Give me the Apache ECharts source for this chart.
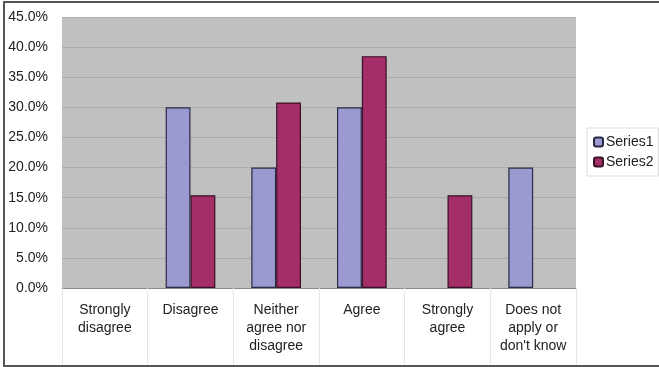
<!DOCTYPE html>
<html>
<head>
<meta charset="utf-8">
<script src="https://cdn.jsdelivr.net/npm/echarts@6/dist/echarts.min.js"></script>
<style>
  html, body { margin: 0; padding: 0; background: #fff; }
  #wrap { position: relative; width: 659px; height: 367px; }
  #chart { position: absolute; left: 0; top: 0; width: 659px; height: 367px; }
  #frame { position: absolute; left: 3px; top: 1px; width: 660px; height: 362px;
           border-left: 2px solid #555; border-top: 2px solid #555; border-bottom: 2px solid #555;
           pointer-events: none; }
</style>
</head>
<body>
<div id="wrap">
  <div id="chart"></div>
  <div id="frame"></div>
</div>
<script>
// Survey response categories
const categories = [
  'Strongly\ndisagree',
  'Disagree',
  'Neither\nagree nor\ndisagree',
  'Agree',
  'Strongly\nagree',
  'Does not\napply or\ndon\'t know'
];
// Share of responses, percent
const series1 = [0, 30.0, 20.0, 30.0, 0, 20.0];
const series2 = [0, 15.4, 30.8, 38.5, 15.4, 0];
const seriesNames = ['Series1', 'Series2'];

const font = 'Liberation Sans, Arial, sans-serif';

// Zero-height bars get no outline, so empty categories stay blank
const barData = arr => arr.map(v => v === 0 ? { value: v, itemStyle: { borderWidth: 0, opacity: 0 } } : v);

const chart = echarts.init(document.getElementById('chart'), null, { renderer: 'canvas' });

chart.setOption({
  animation: false,
  backgroundColor: '#ffffff',
  grid: { left: 62, right: 83, top: 17, bottom: 79, show: true, backgroundColor: '#c0c0c0', borderWidth: 0 },
  legend: {
    data: seriesNames,
    orient: 'vertical',
    left: 587,
    top: 128,
    padding: [7, 5, 7, 6],
    itemGap: 6,
    itemWidth: 9,
    itemHeight: 9,
    backgroundColor: '#ffffff',
    borderColor: '#dddddd',
    borderWidth: 1,
    textStyle: { fontFamily: font, fontSize: 14, color: '#222', padding: [0, 0, 0, -2] }
  },
  xAxis: {
    type: 'category',
    data: categories,
    axisLine: { show: true, lineStyle: { color: '#888', width: 1 } },
    axisTick: { show: true, alignWithLabel: false, length: 77, lineStyle: { color: '#e6e6e6', width: 1 } },
    axisLabel: {
      interval: 0,
      margin: 13,
      fontFamily: font,
      fontSize: 14,
      color: '#222',
      lineHeight: 18,
      verticalAlign: 'top'
    }
  },
  yAxis: {
    type: 'value',
    min: 0,
    max: 45,
    interval: 5,
    axisLine: { show: false },
    axisTick: { show: false },
    splitLine: { show: true, lineStyle: { color: '#aaaaaa', width: 1 } },
    axisLabel: {
      margin: 14,
      fontFamily: font,
      fontSize: 14,
      color: '#222',
      formatter: v => v.toFixed(1) + '%'
    }
  },
  series: [
    {
      name: seriesNames[0],
      type: 'bar',
      data: barData(series1),
      barGap: '0%',
      barCategoryGap: '42%',
      itemStyle: { color: '#9a99d0', borderColor: '#2a2a44', borderWidth: 1.2 }
    },
    {
      name: seriesNames[1],
      type: 'bar',
      data: barData(series2),
      itemStyle: { color: '#a32e68', borderColor: '#3a1026', borderWidth: 1.2 }
    }
  ]
});
</script>
</body>
</html>
